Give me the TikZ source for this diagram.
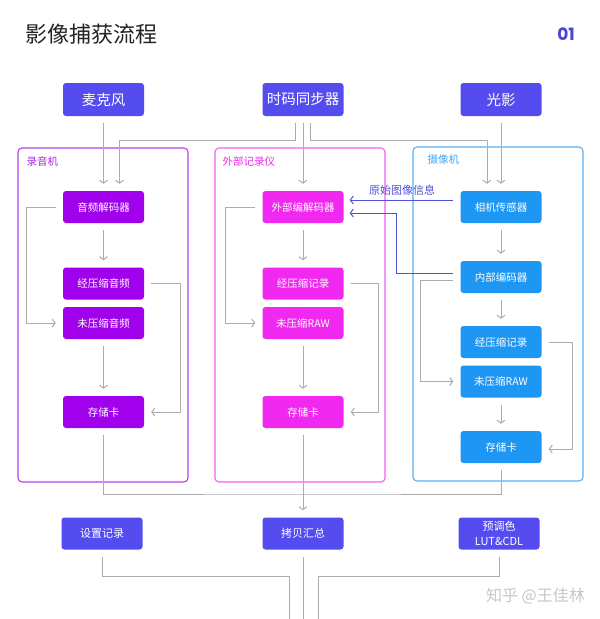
\documentclass[tikz,border=0pt]{standalone}
\usepackage{fontspec}
\setmainfont{Noto Sans CJK SC}
\newfontfamily\numfont{Poppins}
\usetikzlibrary{arrows.meta, positioning}

\definecolor{indigo}{RGB}{84,76,238}
\definecolor{recpurple}{RGB}{160,0,235}
\definecolor{extpink}{RGB}{240,40,240}
\definecolor{camblue}{RGB}{30,150,243}
\definecolor{wiregray}{RGB}{172,172,172}
\definecolor{linkblue}{RGB}{82,80,212}
\definecolor{titlegray}{RGB}{35,35,35}

\tikzset{
  block/.style = {rounded corners=3pt, text=white, minimum width=81pt, minimum height=32pt,
    inner sep=0pt, align=center, font=\fontsize{10.5}{12}\selectfont},
  headbox/.style = {block, fill=indigo, minimum height=33pt, font=\fontsize{14.5}{16}\selectfont},
  footbox/.style = {block, fill=indigo, font=\fontsize{11}{15}\selectfont},
  recbox/.style = {block, fill=recpurple},
  extbox/.style = {block, fill=extpink},
  cambox/.style = {block, fill=camblue},
  unit/.style = {draw=#1, rounded corners=4pt, line width=1.1pt, minimum width=170pt,
    minimum height=334pt, inner sep=0pt},
  unitname/.style = {text=#1, anchor=west, inner sep=0pt, font=\fontsize{10.5}{12}\selectfont},
  wire/.style = {draw=wiregray, line width=1pt, shorten <=7pt, shorten >=7pt},
  arrow/.style = {wire, -{Straight Barb[length=3pt, width=8pt]}},
  link/.style = {draw=linkblue, line width=1pt, shorten <=7pt, shorten >=6pt,
    -{Straight Barb[length=3pt, width=8pt]}}
}

\begin{document}
\begin{tikzpicture}[x=1pt, y=-1pt]

  \fill[white] (0,0) rectangle (600,619);
  \useasboundingbox (0,0) rectangle (600,619);

  %% Heading
  \node[anchor=west, inner sep=0pt, text=titlegray, font=\fontsize{22}{26}\selectfont] (title) at (25,34) {影像捕获流程};
  \node[text=indigo!90!black, font=\numfont\bfseries\fontsize{17}{20}\selectfont] (pageno) at (566,34) {01};

  %% Sources
  \node[headbox] (mic)   at (103.5,99.5) {麦克风};
  \node[headbox] (sync)  at (303,99.5)   {时码同步器};
  \node[headbox] (light) at (501,99.5)   {光影};

  %% Devices
  \node[unit=recpurple!75] (recorder) at (103,315) {};
  \node[unit=extpink!75]   (external) at (300,315) {};
  \node[unit=camblue!75]   (camera)   at (498,314) {};
  \node[unitname=recpurple!85] (recname) at ([xshift=9pt, yshift=-14pt]recorder.north west) {录音机};
  \node[unitname=extpink]      (extname) at ([xshift=8pt, yshift=-14pt]external.north west) {外部记录仪};
  \node[unitname=camblue!85]   (camname) at ([xshift=15pt, yshift=-13pt]camera.north west)  {摄像机};

  % Sound recorder
  \node[recbox] (recdec)  at (103.5,207)   {音频解码器};
  \node[recbox] (reccmp)  at (103.5,283.5) {经压缩音频};
  \node[recbox] (recraw)  at (103.5,323)   {未压缩音频};
  \node[recbox] (reccard) at (103.5,412)   {存储卡};

  % External recorder
  \node[extbox] (extdec)  at (303,207)   {外部编解码器};
  \node[extbox] (extcmp)  at (303,283.5) {经压缩记录};
  \node[extbox] (extraw)  at (303,323)   {未压缩RAW};
  \node[extbox] (extcard) at (303,412)   {存储卡};

  % Camera
  \node[cambox] (sensor)  at (501,207)   {相机传感器};
  \node[cambox] (enc)     at (501,277)   {内部编码器};
  \node[cambox] (camcmp)  at (501,342)   {经压缩记录};
  \node[cambox] (camraw)  at (501,381.5) {未压缩RAW};
  \node[cambox] (camcard) at (501,447)   {存储卡};

  %% Outputs
  \node[footbox] (setup) at (102,533.5) {设置记录};
  \node[footbox] (copy)  at (303,533.5) {拷贝汇总};
  \node[footbox] (grade) at (499,533.5) {预调色\\LUT\&CDL};

  \node[text=black!22, anchor=east, inner sep=0pt, font=\fontsize{16}{18}\selectfont] (mark) at (585,596) {知乎 @王佳林};

  % Helper points
  \coordinate (bus)   at (303,140);
  \coordinate (merge) at (303,494);
  \coordinate (bendL) at (289,576);
  \coordinate (bendR) at (318,576);
  \coordinate (outL)  at (289,619);
  \coordinate (outM)  at (303,619);
  \coordinate (outR)  at (318,619);

  %% Inputs
  \draw[arrow] (mic) -- (recdec);
  \draw[arrow] (sync) -- (extdec);
  \draw[arrow] (light) -- (sensor);
  \draw[arrow] ([xshift=-8pt]sync.south) -- ([xshift=-8pt]sync.south |- bus) -| ([xshift=16pt]recdec.north);
  \draw[arrow] ([xshift=7pt]sync.south) -- ([xshift=7pt]sync.south |- bus) -| ([xshift=-14pt]sensor.north);

  %% Sound recorder flow
  \draw[arrow] (recdec) -- (reccmp);
  \draw[arrow] (recraw) -- (reccard);
  \draw[arrow] (recdec.west) -- ++(-36,0) |- (recraw.west);
  \draw[arrow] (reccmp.east) -- ++(36,0) |- (reccard.east);

  %% External recorder flow
  \draw[arrow] (extdec) -- (extcmp);
  \draw[arrow] (extraw) -- (extcard);
  \draw[arrow] (extdec.west) -- ++(-37,0) |- (extraw.west);
  \draw[arrow] (extcmp.east) -- ++(35,0) |- (extcard.east);

  %% Camera flow
  \draw[arrow] (sensor) -- (enc);
  \draw[arrow] (enc) -- (camcmp);
  \draw[arrow] (camraw) -- (camcard);
  \draw[arrow] ([yshift=-3pt]enc.west) -- ++(-40,0) |- (camraw.west);
  \draw[arrow] (camcmp.east) -- ++(31,0) |- ([yshift=-2pt]camcard.east);

  % Raw image to the external recorder
  \draw[link] ([yshift=7pt]sensor.west) -- ([yshift=7pt]extdec.east)
    node[midway, above=1pt, text=linkblue, font=\fontsize{11}{12}\selectfont] (rawinfo) {原始图像信息};
  \draw[link] ([yshift=4pt]enc.west) -- ++(-64,0) |- ([yshift=-6pt]extdec.east);

  %% Collection
  \draw[wire] (reccard) |- (merge) -| (camcard);
  \draw[arrow] (extcard) -- (copy);
  \draw[wire, shorten >=0pt] (setup) |- (bendL) -- (outL);
  \draw[wire, shorten >=0pt] (copy) -- (outM);
  \draw[wire, shorten >=0pt] (grade) |- (bendR) -- (outR);

\end{tikzpicture}
\end{document}
